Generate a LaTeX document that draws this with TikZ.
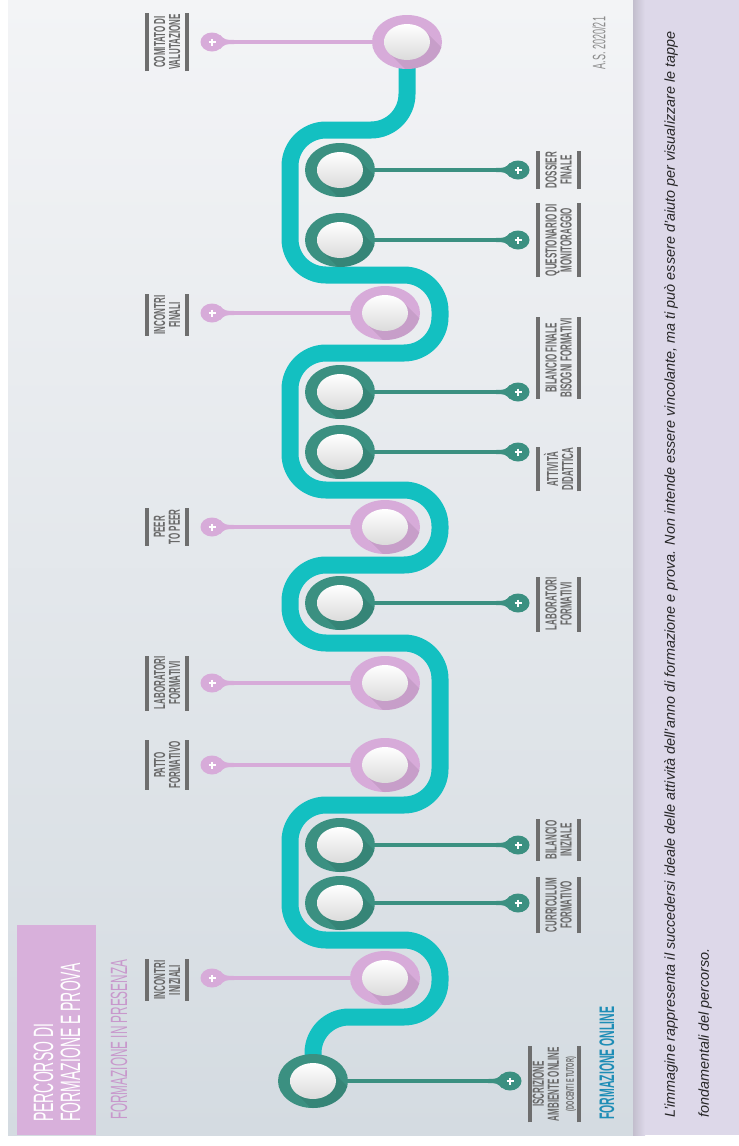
\documentclass[tikz,border=0pt]{standalone}
\usepackage{fontspec}
\setmainfont{Liberation Sans}
\newfontfamily\narrowfont[FakeStretch=0.5]{Liberation Sans}
\usepackage{tikz}
\usetikzlibrary{shapes.geometric,positioning}

\definecolor{trackteal}{HTML}{13C0C1}
\definecolor{darkring}{HTML}{3B9081}
\definecolor{pinkring}{HTML}{D7ABD9}
\definecolor{titlepink}{HTML}{D8B0DB}
\definecolor{presenzapink}{HTML}{C898CC}
\definecolor{onlineblue}{HTML}{1E8DB6}
\definecolor{labelgray}{HTML}{686868}
\definecolor{bargray}{HTML}{6E6E6E}
\definecolor{panellight}{HTML}{F3F4F6}
\definecolor{paneldark}{HTML}{D4DBE1}
\definecolor{strip}{HTML}{DDD8E9}

\pgfdeclarelayer{back}
\pgfdeclarelayer{mid}
\pgfsetlayers{back,mid,main}

\begin{document}
\begin{tikzpicture}[x=1pt, y=-1pt, every node/.style={inner sep=0pt}]
    \tikzset{
        ring/.style={ellipse, fill=#1, minimum width=70pt, minimum height=54pt,
            path picture={
                \fill[black, opacity=0.07, shift={(path picture bounding box.center)}] (16,-13) -- (76,47) -- (44,73) -- (-16,13) -- cycle;
                \shade[top color=white, bottom color=black!14, shift={(path picture bounding box.center)}] (0,0) ellipse [x radius=23pt, y radius=18pt];}},
        pin/.style={ellipse, fill=#1, minimum width=23pt, minimum height=19pt,
            path picture={\draw[white, line width=1.8pt, shift={(path picture bounding box.center)}] (-3.5,0) -- (3.5,0) (0,-3.5) -- (0,3.5);}},
        stem/.style={draw=#1, line width=4pt},
        tag/.style={rotate=90, align=center, text=labelgray, inner xsep=1pt, minimum height=40pt,
            font=\narrowfont\bfseries\fontsize{16}{15}\selectfont},
        bar/.style={draw=bargray, line width=4pt},
        track/.style={draw=trackteal, line width=17pt, rounded corners=36pt}
    }
    \useasboundingbox (0,0) rectangle (739,1146);

    % panel and side strip
    \begin{pgfonlayer}{back}
        \fill[white] (0,0) rectangle (739,1146);
        \shade[top color=panellight, bottom color=paneldark] (8,0) rectangle (633,1135);
        \fill[strip] (633,0) rectangle (739,1135);
        \shade[left color=strip!88!black, right color=strip] (633,0) rectangle (645,1135);
    \end{pgfonlayer}

    % headings
    \node[rotate=90, fill=titlepink, minimum width=210pt, minimum height=79pt] (titlebox) at (56.5,1030) {};
    \node[rotate=90, anchor=west, text=white, align=left, font=\narrowfont\fontsize{28}{27}\selectfont] (title) at (57,1122) {PERCORSO DI\\FORMAZIONE E PROVA};
    \node[rotate=90, anchor=west, text=presenzapink, font=\narrowfont\fontsize{23.5}{23}\selectfont] (presenza) at (119,1120) {FORMAZIONE IN PRESENZA};
    \node[rotate=90, anchor=west, text=onlineblue, font=\narrowfont\bfseries\fontsize{21}{21}\selectfont] (online) at (607,1120) {FORMAZIONE ONLINE};
    \node[rotate=90, text=black!45, font=\narrowfont\fontsize{18}{18}\selectfont] (year) at (599,43) {A.S. 2020/21};
    \node[rotate=90, anchor=north west, align=left, text=black!85, font=\itshape\fontsize{14.4}{34}\selectfont] (note) at (664,1118)
        {L'immagine rappresenta il succedersi ideale delle attività dell'anno di formazione e prova. Non intende essere vincolante, ma ti può essere d'aiuto per visualizzare le tappe\\fondamentali del percorso.};

    % in presenza (left)
    \foreach \n/\cx/\cy/\ty/\txt in {2/385/978/980/{INCONTRI\\INIZIALI}, 5/385/765/765/{PATTO\\FORMATIVO},
        6/385/683/683/{LABORATORI\\FORMATIVI}, 8/385/527/527/{PEER\\TO PEER},
        11/385/313/315/{INCONTRI\\FINALI}, 14/407/42/42/{COMITATO DI\\VALUTAZIONE}} {
        \node[ring=pinkring] (c\n) at (\cx,\cy) {};
        \node[pin=pinkring] (p\n) at (212,\cy) {};
        \node[tag] (t\n) at (167,\ty) {\txt};
        \draw[stem=pinkring] (c\n) -- (p\n);
        \fill[pinkring, shift={(p\n.center)}, xscale=-1] (-8,-7) .. controls (-13,-2.2) .. (-22,-2) -- (-22,2) .. controls (-13,2.2) .. (-8,7) -- cycle;
        \draw[bar] (t\n.north west) -- (t\n.north east) (t\n.south west) -- (t\n.south east);
    }

    % online (right)
    \node[ring=darkring] (c1) at (313,1081) {};
    \node[pin=darkring] (p1) at (510,1081) {};
    \node[tag, minimum height=49pt] (t1) at (554.5,1084) {ISCRIZIONE\\AMBIENTE ONLINE\\{\fontsize{11}{11}\selectfont(DOCENTI E TUTOR)}};
    \foreach \n/\cx/\cy/\ty/\txt in {1/0/0/0/{}, 3/340/903/905/{CURRICULUM\\FORMATIVO}, 4/340/845/840/{BILANCIO\\INIZIALE},
        7/340/603/604/{LABORATORI\\FORMATIVI}, 9/340/452/469/{ATTIVITÀ\\DIDATTICA},
        10/340/392/358/{BILANCIO FINALE\\BISOGNI FORMATIVI}, 12/340/240/240/{QUESTIONARIO DI\\MONITORAGGIO},
        13/340/170/170/{DOSSIER\\FINALE}} {
        \ifnum\n>1
            \node[ring=darkring] (c\n) at (\cx,\cy) {};
            \node[pin=darkring] (p\n) at (518,\cy) {};
            \node[tag] (t\n) at (558.5,\ty) {\txt};
        \fi
        \draw[stem=darkring] (c\n) -- (p\n);
        \fill[darkring, shift={(p\n.center)}] (-8,-7) .. controls (-13,-2.2) .. (-22,-2) -- (-22,2) .. controls (-13,2.2) .. (-8,7) -- cycle;
        \draw[bar] (t\n.north west) -- (t\n.north east) (t\n.south west) -- (t\n.south east);
    }

    % the winding path
    \begin{pgfonlayer}{mid}
        \draw[track] (c1.center) -- (313,1017) -- (440,1017) -- (440,940) -- (290,940) -- (290,805) -- (440,805)
            -- (440,643) -- (290,643) -- (290,565) -- (440,565) -- (440,490) -- (290,490) -- (290,353)
            -- (440,353) -- (440,275) -- (290,275) -- (290,130) -- (407,130) -- (c14.center);
    \end{pgfonlayer}
\end{tikzpicture}
\end{document}
